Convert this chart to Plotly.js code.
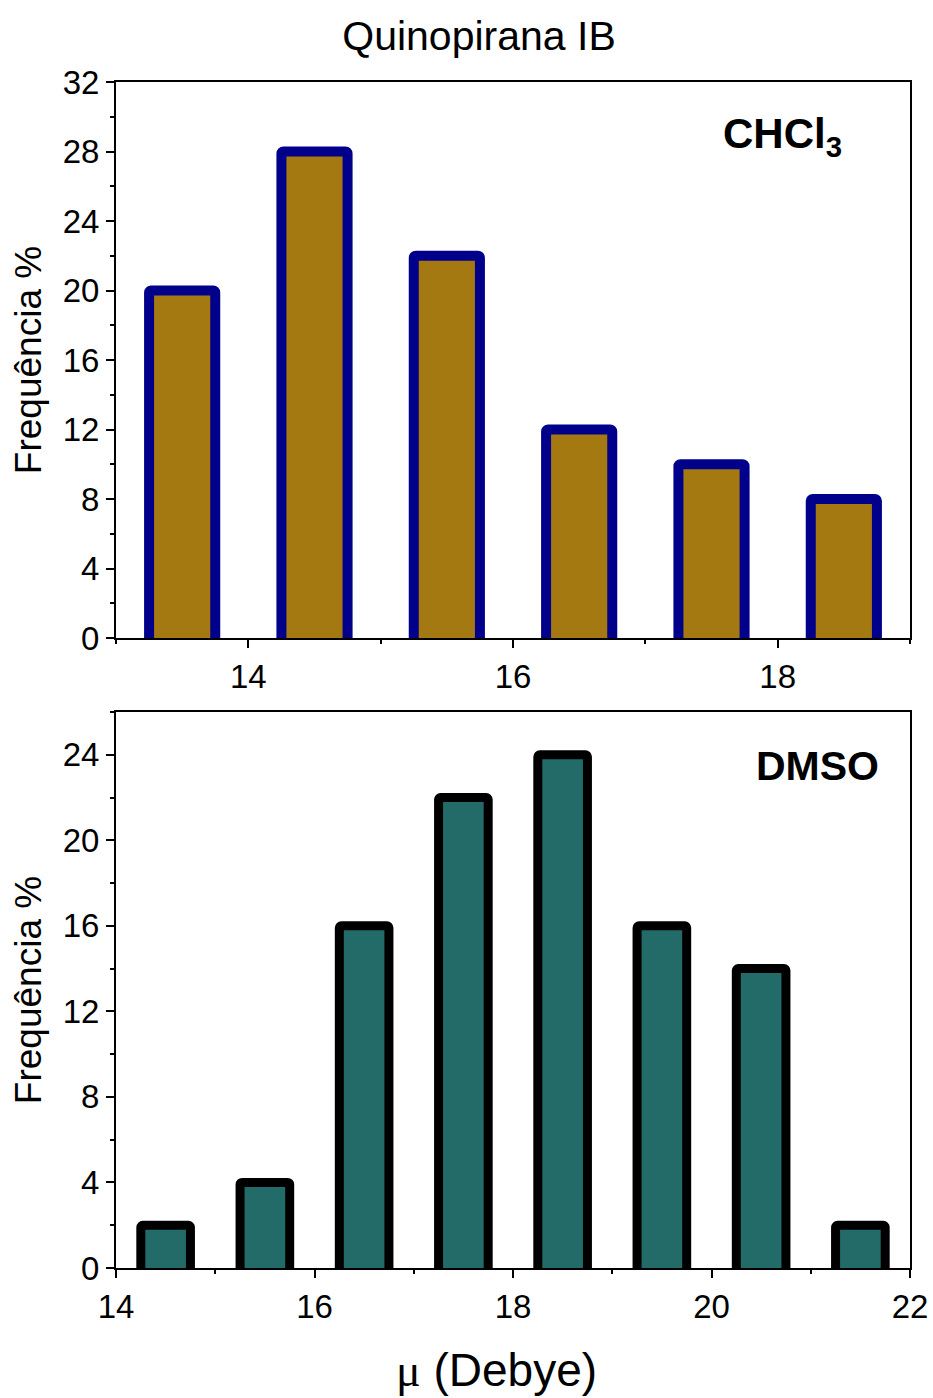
<!DOCTYPE html>
<html>
<head>
<meta charset="utf-8">
<script src="https://cdn.plot.ly/plotly-3.0.1.min.js"></script>
<style>html,body{margin:0;padding:0;background:#fff;}#chart{width:933px;height:1398px;}</style>
</head>
<body>
<div id="chart"></div>
<script>
// Data
const chartTitle = "Quinopirana IB";
const chcl3X = [13.5, 14.5, 15.5, 16.5, 17.5, 18.5];
const chcl3Y = [20, 28, 22, 12, 10, 8];
const dmsoX = [14.5, 15.5, 16.5, 17.5, 18.5, 19.5, 20.5, 21.5];
const dmsoY = [2, 4, 16, 22, 24, 16, 14, 2];
const topLabel = "CHCl<sub>3</sub>";
const bottomLabel = "DMSO";
const yTitle = "Frequência %";
const xTitle = "<span style=\"font-family:'Liberation Serif'\">μ</span> (Debye)";

// hide the bottom outline below the axis
const dTop = 0.35, dBot = 0.25;

const font = "Liberation Sans, Arial, sans-serif";

const traces = [
  {
    type: 'bar', x: chcl3X, y: chcl3Y.map(v => v + dTop), base: chcl3X.map(() => -dTop),
    width: 0.5, xaxis: 'x', yaxis: 'y',
    marker: {color: '#A57911', line: {color: '#00008B', width: 10}, cornerradius: 2},
    hoverinfo: 'skip'
  },
  {
    type: 'bar', x: dmsoX, y: dmsoY.map(v => v + dBot), base: dmsoX.map(() => -dBot),
    width: 0.5, xaxis: 'x2', yaxis: 'y2',
    marker: {color: '#226B69', line: {color: '#000000', width: 9}, cornerradius: 2},
    hoverinfo: 'skip'
  }
];

const axisCommon = {
  showline: true, linecolor: '#000', linewidth: 2, mirror: true,
  ticks: 'outside', ticklen: 8, tickwidth: 2, tickcolor: '#000',
  showgrid: false, zeroline: false,
  tickfont: {family: font, size: 33, color: '#000'}
};

const layout = {
  width: 933, height: 1398,
  paper_bgcolor: '#fff', plot_bgcolor: '#fff',
  showlegend: false,
  margin: {l: 116, r: 23, t: 82, b: 130},
  title: {text: chartTitle, x: 479/933, xref: 'container', xanchor: 'center',
          y: 1 - 36/1398, yref: 'container', yanchor: 'middle',
          font: {family: font, size: 41, color: '#000'}},
  xaxis: Object.assign({}, axisCommon, {
    anchor: 'y', domain: [0, 1], range: [13, 19], tickmode: 'linear', tick0: 14, dtick: 2,
    minor: {ticks: 'outside', ticklen: 4, tickwidth: 2, tickcolor: '#000', tick0: 13, dtick: 1, showgrid: false}
  }),
  yaxis: Object.assign({}, axisCommon, {
    anchor: 'x', domain: [630/1186, 1], range: [0, 32], tickmode: 'linear', tick0: 0, dtick: 4,
    minor: {ticks: 'outside', ticklen: 4, tickwidth: 2, tickcolor: '#000', dtick: 2, showgrid: false},
    title: {text: yTitle, font: {family: font, size: 37, color: '#000'}, standoff: 10}
  }),
  xaxis2: Object.assign({}, axisCommon, {
    anchor: 'y2', domain: [0, 1], range: [14, 22], tickmode: 'linear', tick0: 14, dtick: 2,
    minor: {ticks: 'outside', ticklen: 4, tickwidth: 2, tickcolor: '#000', tick0: 15, dtick: 2, showgrid: false}
  }),
  yaxis2: Object.assign({}, axisCommon, {
    anchor: 'x2', domain: [0, 556/1186], range: [0, 26], tickmode: 'linear', tick0: 0, dtick: 4,
    minor: {ticks: 'outside', ticklen: 4, tickwidth: 2, tickcolor: '#000', dtick: 2, showgrid: false},
    title: {text: yTitle, font: {family: font, size: 37, color: '#000'}, standoff: 10}
  }),
  annotations: [
    {text: topLabel, xref: 'paper', yref: 'paper', x: (782-116)/794, y: (1268-137)/1186,
     xanchor: 'center', yanchor: 'middle', showarrow: false,
     font: {family: font, size: 42, color: '#000', weight: 'bold'}},
    {text: bottomLabel, xref: 'paper', yref: 'paper', x: (817-116)/794, y: (1268-766)/1186,
     xanchor: 'center', yanchor: 'middle', showarrow: false,
     font: {family: font, size: 41, color: '#000', weight: 'bold'}},
    {text: xTitle, xref: 'paper', yref: 'paper', x: (496-116)/794, y: (1268-1370)/1186,
     xanchor: 'center', yanchor: 'middle', showarrow: false,
     font: {family: font, size: 46, color: '#000'}}
  ]
};

Plotly.newPlot('chart', traces, layout, {displayModeBar: false, staticPlot: true});
</script>
</body>
</html>
